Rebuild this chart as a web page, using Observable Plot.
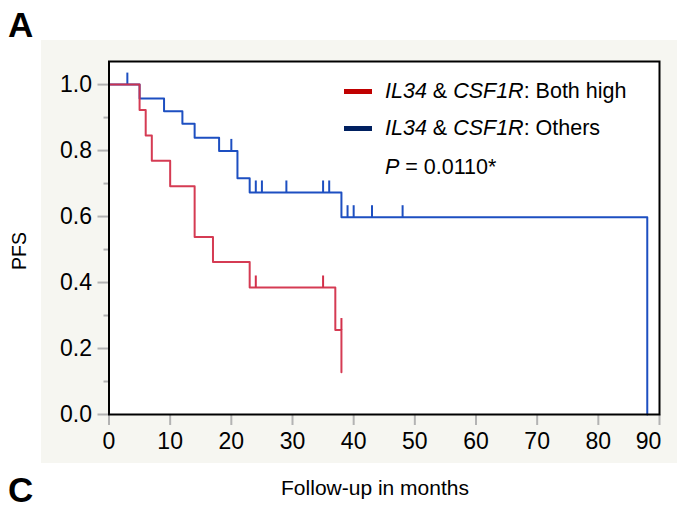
<!DOCTYPE html>
<html>
<head>
<meta charset="utf-8">
<script src="https://cdn.jsdelivr.net/npm/d3@7"></script>
<script src="https://cdn.jsdelivr.net/npm/@observablehq/plot@0.6"></script>
<style>
  html, body { margin: 0; padding: 0; background: #fff; }
  #wrap { position: relative; width: 677px; height: 509px; overflow: hidden; background: #fff;
          font-family: "Liberation Sans", Arial, Helvetica, sans-serif; color: #000; }
  #panel { position: absolute; left: 41px; top: 40px; width: 636px; height: 423px; background: #f6f6f1; }
  #chart { position: absolute; left: 0; top: 0; }
  #chart svg text { font-size: 23px !important; font-family: "Liberation Sans", Arial, sans-serif !important; }
  .abs { position: absolute; white-space: nowrap; line-height: 1; }
  .panel-label { font-weight: bold; font-size: 35px; }
  .legrow { position: absolute; left: 344px; height: 26px; display: flex; align-items: center; font-size: 21.5px; white-space: nowrap; }
  .sw { display: inline-block; width: 28px; height: 5px; margin-right: 13px; flex: none; }
</style>
</head>
<body>
<div id="wrap">
  <div id="panel"></div>
  <div id="chart"></div>
  <div class="abs panel-label" style="left:8px; top:7px;">A</div>
  <div class="abs panel-label" style="left:8px; top:472px;">C</div>
  <div class="abs" style="left:375px; top:477px; font-size:21px; transform:translateX(-50%);">Follow-up in months</div>
  <div class="abs" style="left:19.5px; top:251px; font-size:19.5px; transform:translate(-50%,-50%) rotate(-90deg);">PFS</div>
  <div id="legend"></div>
</div>
<script>
// ---- data ----
const groups = ["IL34 & CSF1R: Both high", "IL34 & CSF1R: Others"];

// Others (blue): step times and survival after each step
const blueTimes = [0, 5, 9, 12, 14, 18, 21, 23, 38, 88];
const blueSurv  = [1.0, 0.958, 0.919, 0.881, 0.839, 0.799, 0.716, 0.673, 0.598, 0.0];
const blueCensorTimes = [3, 20, 24, 25, 29, 35, 36, 39, 40, 43, 48];
const blueCensorSurv  = [1.0, 0.799, 0.673, 0.673, 0.673, 0.673, 0.673, 0.598, 0.598, 0.598, 0.598];

// Both high (red)
const redTimes = [0, 5, 6, 7, 10, 14, 17, 23, 37, 38];
const redSurv  = [1.0, 0.923, 0.846, 0.769, 0.692, 0.538, 0.462, 0.385, 0.256, 0.128];
const redCensorTimes = [24, 35, 38];
const redCensorSurv  = [0.385, 0.385, 0.256];

const xTicks = [0, 10, 20, 30, 40, 50, 60, 70, 80, 90];
const xLastTick = [90];
const yTicks = [0, 0.2, 0.4, 0.6, 0.8, 1.0];
const yMinorTicks = [0.1, 0.3, 0.5, 0.7, 0.9];
const pText = "0.0110*";

// ---- colours ----
const blueLine = "#1d4fc1", redLine = "#d3304a";
const blueSwatch = "#002060", redSwatch = "#c00000";
const tickGray = "#b3b3b3";

const zip = (ts, ss) => ts.map((t, i) => ({t, s: ss[i]}));
const blue = zip(blueTimes, blueSurv), red = zip(redTimes, redSurv);
const blueC = zip(blueCensorTimes, blueCensorSurv), redC = zip(redCensorTimes, redCensorSurv);

// vertical censor tick drawn upward from the curve
const censorSymbol = { draw(ctx, size) { const r = Math.sqrt(size / Math.PI); ctx.moveTo(0, 0); ctx.lineTo(0, -2 * r); } };

const xAxisOpts = { tickFormat: d => String(d), label: null, stroke: tickGray, strokeWidth: 2, fill: "#000" };

const chart = Plot.plot({
  width: 677,
  height: 509,
  marginLeft: 108.5,
  marginRight: 18,
  marginTop: 61,
  marginBottom: 95,
  style: { background: "transparent", fontFamily: "'Liberation Sans', Arial, sans-serif", fontSize: "23px", color: "#000", overflow: "visible" },
  x: { domain: [0, 90], axis: null },
  y: { domain: [0, 1.07], axis: null },
  marks: [
    Plot.frame({ fill: "white", stroke: null }),
    Plot.axisY({ ticks: yMinorTicks, tickSize: 5, text: null, label: null, stroke: tickGray, strokeWidth: 2 }),
    Plot.axisY({ ticks: yTicks, tickSize: 11, tickPadding: 6, tickFormat: d3.format(".1f"), label: null,
                 stroke: tickGray, strokeWidth: 2, fill: "#000" }),
    // tick marks for all x ticks
    Plot.axisX({ ticks: xTicks, tickSize: 11, text: null, ...xAxisOpts }),
    // labels: all but the last centred, last one nudged left to stay inside the panel
    Plot.axisX({ ticks: xTicks.filter(t => !xLastTick.includes(t)), tickSize: 0, tickPadding: 18, ...xAxisOpts }),
    Plot.axisX({ ticks: xLastTick, tickSize: 0, tickPadding: 18, dx: -11, ...xAxisOpts }),
    Plot.line(blue, { x: "t", y: "s", curve: "step-after", stroke: blueLine, strokeWidth: 2 }),
    Plot.dot(blueC, { x: "t", y: "s", symbol: censorSymbol, r: 6, stroke: blueLine, fill: "none", strokeWidth: 2 }),
    Plot.line(red, { x: "t", y: "s", curve: "step-after", stroke: redLine, strokeWidth: 2, strokeOpacity: 0.95 }),
    Plot.dot(redC, { x: "t", y: "s", symbol: censorSymbol, r: 6, stroke: redLine, fill: "none", strokeWidth: 2 }),
    Plot.frame({ stroke: "#000", strokeWidth: 2, fill: null })
  ]
});
document.getElementById("chart").appendChild(chart);

// ---- legend (inside plot frame) ----
const leg = document.getElementById("legend");
function row(centerY, swatch, html) {
  const d = document.createElement("div");
  d.className = "legrow";
  d.style.top = (centerY - 13) + "px";
  d.innerHTML = (swatch ? `<span class="sw" style="background:${swatch}"></span>` : `<span style="display:inline-block;width:41px;flex:none"></span>`) + `<span>${html}</span>`;
  leg.appendChild(d);
}
const fmtGroup = g => g.replace("IL34", "<i>IL34</i>").replace("CSF1R", "<i>CSF1R</i>");
row(91, redSwatch, fmtGroup(groups[0]));
row(128, blueSwatch, fmtGroup(groups[1]));
row(167, null, `<i>P</i> = ${pText}`);
</script>
</body>
</html>
